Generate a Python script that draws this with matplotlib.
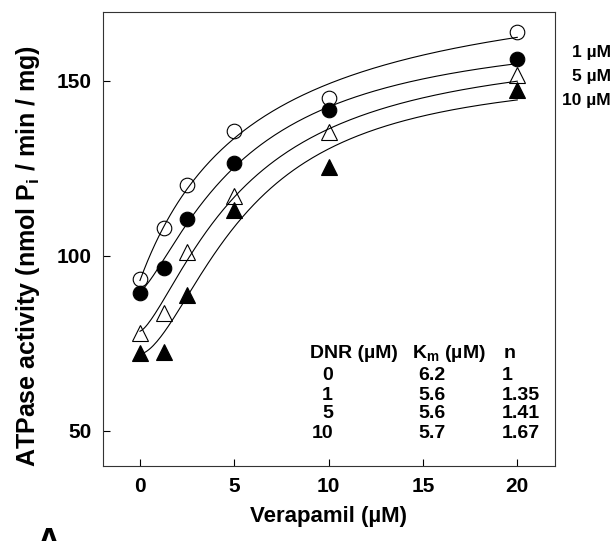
import numpy as np
import matplotlib
matplotlib.use("Agg")
import matplotlib.pyplot as plt

plt.rcParams['font.family'] = ['Liberation Sans', 'DejaVu Sans']
plt.rcParams['font.weight'] = 'bold'
plt.rcParams['mathtext.fontset'] = 'custom'
plt.rcParams['mathtext.rm'] = 'Liberation Sans:bold'
plt.rcParams['mathtext.bf'] = 'Liberation Sans:bold'

# verapamil concentrations (uM)
verapamil = [0, 1.25, 2.5, 5, 10, 20]

# ATPase activity for each DNR concentration
dnr_0 = [93.4, 108.0, 120.3, 135.7, 145.0, 164.0]
dnr_1 = [89.4, 96.6, 110.6, 126.6, 141.8, 156.3]
dnr_5 = [78.0, 83.7, 101.1, 117.2, 135.4, 151.7]
dnr_10 = [72.3, 72.6, 88.9, 113.0, 125.4, 147.4]

# fitted Hill parameters (table in the figure + baseline / amplitude of the fit)
dnr_conc = ["0", "1", "5", "10"]
km = [6.2, 5.6, 5.6, 5.7]
hill_n = [1, 1.35, 1.41, 1.67]
v0 = [93.0, 90.0, 78.5, 72.0]
vmax = [91.0, 76.6, 83.3, 81.5]

right_labels = ["1 \u00b5M", "5 \u00b5M", "10 \u00b5M"]

fig = plt.figure(figsize=(6.14, 5.41), dpi=100)
ax = fig.add_axes([103/614, 1-466/541, (555-103)/614, (466-12)/541])

xs = np.linspace(0, 20, 200)
for i in range(4):
    ys = v0[i] + vmax[i] * xs**hill_n[i] / (km[i]**hill_n[i] + xs**hill_n[i])
    ax.plot(xs, ys, color='k', lw=0.8, zorder=2)

ax.plot(verapamil, dnr_0, 'o', ms=10.5, mfc='none', mec='k', mew=0.8, zorder=3)
ax.plot(verapamil, dnr_1, 'o', ms=10.5, mfc='k', mec='k', mew=0.8, zorder=4)
ax.plot(verapamil, dnr_5, '^', ms=11, mfc='none', mec='k', mew=0.8, zorder=5)
ax.plot(verapamil, dnr_10, '^', ms=11, mfc='k', mec='k', mew=0.8, zorder=6)

ax.set_xlim(-1.96, 22.0)
ax.set_ylim(40, 169.7)
ax.set_xticks([0, 5, 10, 15, 20])
ax.set_yticks([50, 100, 150])
ax.tick_params(direction='in', length=5, width=0.8, labelsize=15, pad=8)
for s in ax.spines.values():
    s.set_linewidth(0.8)
    s.set_color('#333333')

ax.set_xlabel("Verapamil (\u00b5M)", fontsize=16, fontweight='bold', labelpad=7)
fig.text(28/614, 1-256/541, "ATPase activity (nmol P$_\\mathregular{i}$ / min / mg)",
         rotation=90, ha='center', va='center', fontsize=18, fontweight='bold')

# table of fit parameters
tx = ax.transAxes
def px(x, y):
    return ((x-103)/452, (466-y)/454)

fs = 14
ax.text(*px(310, 354), "DNR (\u00b5M)", transform=tx, ha='left', va='center', fontsize=fs)
ax.text(*px(412, 354), "K$_\\mathregular{m}$ (\u00b5M)", transform=tx, ha='left', va='center', fontsize=fs)
ax.text(*px(504, 354), "n", transform=tx, ha='left', va='center', fontsize=fs)
row_y = [375, 395, 414, 433]
for i in range(4):
    ax.text(*px(333, row_y[i]), dnr_conc[i], transform=tx, ha='right', va='center', fontsize=fs)
    ax.text(*px(418, row_y[i]), "%.1f" % km[i], transform=tx, ha='left', va='center', fontsize=fs)
    ax.text(*px(502, row_y[i]), "%g" % hill_n[i], transform=tx, ha='left', va='center', fontsize=fs)

# labels on the right
lab_y = [53, 76, 100]
for i in range(3):
    fig.text(611/614, 1-lab_y[i]/541, right_labels[i], ha='right', va='center', fontsize=12.5, fontweight='bold')

# panel letter, cut at the bottom edge as in the original
fig.text(48/614, 1-527/541, "A", ha='center', va='top', fontsize=24, fontweight='bold')

fig.savefig("out.png", dpi=100)
